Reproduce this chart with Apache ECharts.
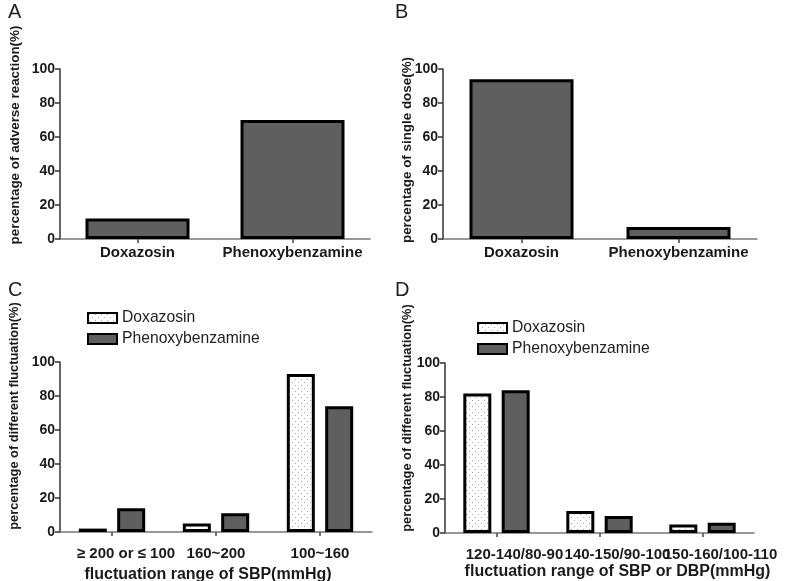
<!DOCTYPE html>
<html>
<head>
<meta charset="utf-8">
<script src="https://cdn.jsdelivr.net/npm/echarts@6/dist/echarts.min.js"></script>
<style>
html,body{margin:0;padding:0;background:#fff;}
#chart{width:800px;height:581px;}
</style>
</head>
<body>
<div id="chart"></div>
<script>
// ---- data ----
const catsAB = ['Doxazosin', 'Phenoxybenzamine'];
const adverseReaction = [12, 70];
const singleDose = [94, 7];
const catsC = ['≥ 200 or ≤ 100', '160~200', '100~160'];
const sbpDoxazosin = [2, 5, 93];
const sbpPhenoxybenzamine = [14, 11, 74];
const catsD = ['120-140/80-90', '140-150/90-100', '150-160/100-110'];
const sbpDbpDoxazosin = [82, 13, 5];
const sbpDbpPhenoxybenzamine = [84, 10, 6];
const yMin = 0, yMax = 100, yStep = 20;
const seriesNames = ['Doxazosin', 'Phenoxybenzamine'];
const yTitles = ['percentage of adverse reaction(%)', 'percentage of single dose(%)',
  'percentage of different fluctuation(%)', 'percentage of different fluctuation(%)'];
const xTitles = ['fluctuation range of SBP(mmHg)', 'fluctuation range of SBP or DBP(mmHg)'];
const panelLetters = ['A', 'B', 'C', 'D'];

// ---- styles ----
const FONT = 'Liberation Sans, Arial, sans-serif';
const darkFill = '#5f5f5f';
const pc = document.createElement('canvas');
pc.width = 6; pc.height = 6;
const pctx = pc.getContext('2d');
pctx.fillStyle = '#ffffff'; pctx.fillRect(0, 0, 6, 6);
pctx.fillStyle = '#a8a8a8';
pctx.fillRect(1, 1, 1, 1); pctx.fillRect(4, 4, 1, 1);
const dotFill = { image: pc, repeat: 'repeat' };

const grids = [
  { left: 60, top: 69, width: 310, height: 170, outerBoundsMode: 'none' },
  { left: 443, top: 69, width: 314, height: 170, outerBoundsMode: 'none' },
  { left: 60, top: 362, width: 312, height: 170, outerBoundsMode: 'none' },
  { left: 445, top: 363, width: 309, height: 170, outerBoundsMode: 'none' }
];

function yAxisOf(i) {
  return {
    type: 'value', gridIndex: i, min: yMin, max: yMax, interval: yStep,
    axisLine: { show: true, lineStyle: { color: '#333', width: 1.5 } },
    axisTick: { show: true, length: 5, lineStyle: { color: '#333', width: 1.5 } },
    axisLabel: { margin: 5, color: '#1a1a1a', fontSize: 14, fontWeight: 'bold', fontFamily: FONT },
    splitLine: { show: false }
  };
}
const labelBase = { color: '#1a1a1a', fontSize: 15, fontWeight: 'bold', fontFamily: FONT };
function xAxisOf(i, cats, labelExtra, extra) {
  return Object.assign({
    type: 'category', gridIndex: i, data: cats,
    axisLine: { show: true, lineStyle: { color: '#777', width: 1.5 } },
    axisTick: { show: true, alignWithLabel: true, length: 4, lineStyle: { color: '#444', width: 1.5 } },
    axisLabel: Object.assign({ interval: 0 }, labelBase, labelExtra)
  }, extra || {});
}

const barBorder = { borderColor: '#000', borderWidth: 3 };
const nameStyle = { color: '#1a1a1a', fontSize: 16, fontWeight: 'bold', fontFamily: FONT };
const yTitleStyle = { fontWeight: 'bold', fill: '#1a1a1a', fontFamily: FONT, align: 'center', verticalAlign: 'middle' };

const option = {
  animation: false,
  backgroundColor: '#fff',
  grid: grids,
  xAxis: [
    xAxisOf(0, catsAB, { margin: 6 }),
    xAxisOf(1, catsAB, { margin: 6 }),
    xAxisOf(2, catsC, {
      margin: 14,
      formatter: function (v, idx) { return idx === 0 ? '{s|' + v + '}' : v; },
      rich: { s: Object.assign({ padding: [0, 0, 0, 28] }, labelBase) }
    }, {
      name: xTitles[0], nameLocation: 'middle', nameGap: 35,
      nameTextStyle: Object.assign({ padding: [0, 16, 0, 0] }, nameStyle)
    }),
    xAxisOf(3, catsD, { margin: 14, padding: [0, 0, 0, 36] }, {
      name: xTitles[1], nameLocation: 'middle', nameGap: 31,
      nameTextStyle: Object.assign({ padding: [0, 0, 0, 36] }, nameStyle)
    })
  ],
  yAxis: [yAxisOf(0), yAxisOf(1), yAxisOf(2), yAxisOf(3)],
  legend: [
    {
      left: 82, top: 305, orient: 'vertical', itemWidth: 29, itemHeight: 10, itemGap: 5, icon: 'rect',
      data: seriesNames, textStyle: { fontSize: 15.7, color: '#222', fontFamily: FONT },
      itemStyle: { borderWidth: 2, borderColor: '#000' }
    },
    {
      left: 472, top: 315, orient: 'vertical', itemWidth: 29, itemHeight: 10, itemGap: 5, icon: 'rect',
      data: seriesNames, textStyle: { fontSize: 15.7, color: '#222', fontFamily: FONT },
      itemStyle: { borderWidth: 2, borderColor: '#000' }
    }
  ],
  series: [
    { type: 'bar', name: 'A', xAxisIndex: 0, yAxisIndex: 0, data: adverseReaction, barWidth: 104,
      itemStyle: Object.assign({ color: darkFill }, barBorder) },
    { type: 'bar', name: 'B', xAxisIndex: 1, yAxisIndex: 1, data: singleDose, barWidth: 104,
      itemStyle: Object.assign({ color: darkFill }, barBorder) },
    { type: 'bar', name: seriesNames[0], xAxisIndex: 2, yAxisIndex: 2, data: sbpDoxazosin, barWidth: 28, barGap: '37%',
      itemStyle: Object.assign({ color: dotFill }, barBorder) },
    { type: 'bar', name: seriesNames[1], xAxisIndex: 2, yAxisIndex: 2, data: sbpPhenoxybenzamine, barWidth: 28, barGap: '37%',
      itemStyle: Object.assign({ color: darkFill }, barBorder) },
    { type: 'bar', name: seriesNames[0], xAxisIndex: 3, yAxisIndex: 3, data: sbpDbpDoxazosin, barWidth: 28, barGap: '37%',
      itemStyle: Object.assign({ color: dotFill }, barBorder) },
    { type: 'bar', name: seriesNames[1], xAxisIndex: 3, yAxisIndex: 3, data: sbpDbpPhenoxybenzamine, barWidth: 28, barGap: '37%',
      itemStyle: Object.assign({ color: darkFill }, barBorder) }
  ],
  graphic: [
    { type: 'text', left: 8, top: 2, style: { text: panelLetters[0], fontSize: 20, fill: '#222', fontFamily: FONT } },
    { type: 'text', left: 395, top: 2, style: { text: panelLetters[1], fontSize: 20, fill: '#222', fontFamily: FONT } },
    { type: 'text', left: 8, top: 280, style: { text: panelLetters[2], fontSize: 20, fill: '#222', fontFamily: FONT } },
    { type: 'text', left: 395, top: 280, style: { text: panelLetters[3], fontSize: 20, fill: '#222', fontFamily: FONT } },
    { type: 'text', x: 15, y: 135, rotation: Math.PI / 2,
      style: Object.assign({ text: yTitles[0], fontSize: 13.4 }, yTitleStyle) },
    { type: 'text', x: 407, y: 150, rotation: Math.PI / 2,
      style: Object.assign({ text: yTitles[1], fontSize: 13.4 }, yTitleStyle) },
    { type: 'text', x: 14, y: 416, rotation: Math.PI / 2,
      style: Object.assign({ text: yTitles[2], fontSize: 12.8 }, yTitleStyle) },
    { type: 'text', x: 407, y: 418, rotation: Math.PI / 2,
      style: Object.assign({ text: yTitles[3], fontSize: 12.8 }, yTitleStyle) }
  ]
};

const chart = echarts.init(document.getElementById('chart'), null, { renderer: 'canvas' });
chart.setOption(option);
</script>
</body>
</html>
